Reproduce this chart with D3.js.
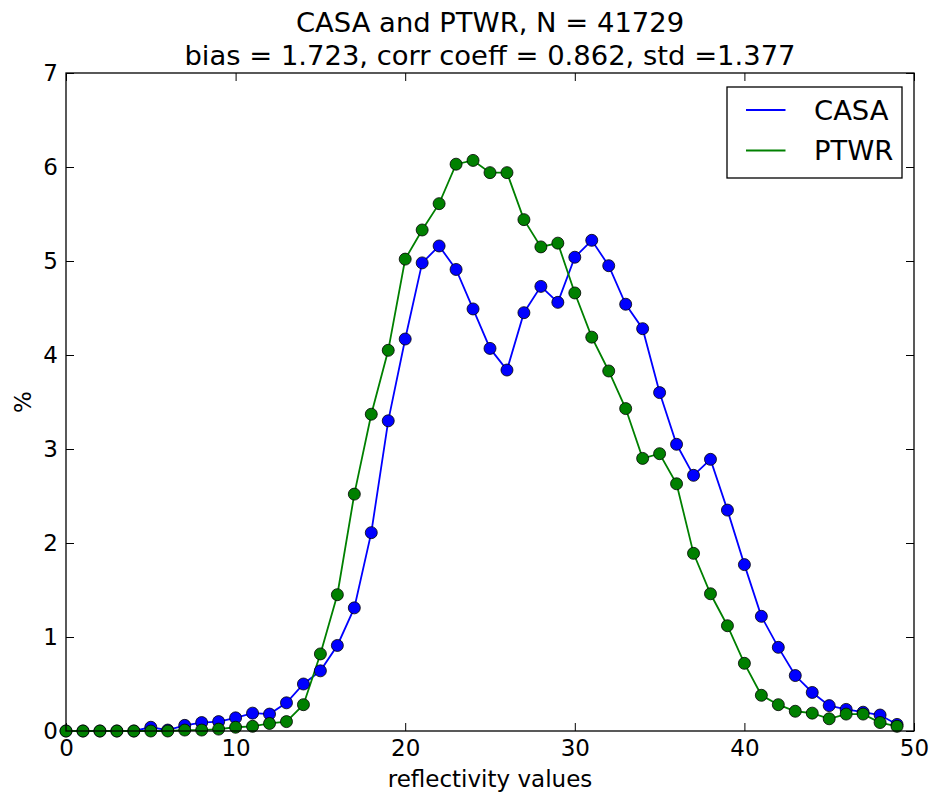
<!DOCTYPE html>
<html>
<head>
<meta charset="utf-8">
<script src="https://cdn.jsdelivr.net/npm/d3@7"></script>
<style>
  html, body { margin: 0; padding: 0; background: #fff; }
  svg { display: block; font-family: "DejaVu Sans", sans-serif; }
</style>
</head>
<body>
<svg id="chart" width="932" height="796"></svg>
<script>
// Reflectivity bins 0..49
const bins = d3.range(0, 50);

// Percentage of samples in each bin
const casa = [0.00, 0.00, 0.00, 0.00, 0.00, 0.04, 0.01, 0.06, 0.09, 0.10,
              0.14, 0.19, 0.18, 0.30, 0.50, 0.64, 0.91, 1.31, 2.11, 3.30,
              4.17, 4.98, 5.16, 4.91, 4.49, 4.07, 3.84, 4.45, 4.73, 4.56,
              5.04, 5.22, 4.95, 4.54, 4.28, 3.60, 3.05, 2.72, 2.89, 2.35,
              1.77, 1.22, 0.89, 0.59, 0.41, 0.27, 0.23, 0.20, 0.17, 0.07];
const ptwr = [0.00, 0.00, 0.00, 0.00, 0.00, 0.00, 0.00, 0.01, 0.01, 0.02,
              0.04, 0.05, 0.08, 0.10, 0.28, 0.82, 1.45, 2.52, 3.37, 4.05,
              5.02, 5.33, 5.61, 6.03, 6.07, 5.94, 5.94, 5.44, 5.15, 5.19,
              4.66, 4.19, 3.83, 3.43, 2.90, 2.95, 2.63, 1.89, 1.46, 1.12,
              0.72, 0.38, 0.28, 0.21, 0.19, 0.13, 0.18, 0.18, 0.09, 0.05];

const seriesNames = ["CASA", "PTWR"];
const seriesColors = ["#0000ff", "#008000"];
const xTicks = [0, 10, 20, 30, 40, 50];
const yTicks = [0, 1, 2, 3, 4, 5, 6, 7];
const titleLines = ["CASA and PTWR, N = 41729",
                    "bias = 1.723, corr coeff = 0.862, std =1.377"];

const svg = d3.select("#chart");
const m = { left: 66, right: 914, top: 73, bottom: 731 };

const x = d3.scaleLinear().domain([0, 50]).range([m.left, m.right]);
const y = d3.scaleLinear().domain([0, 7]).range([m.bottom, m.top]);

const tickLen = 8;
const tickFont = "23px";
const bigFont = "27.4px";

// Axes with inward ticks on all four sides
svg.append("g")
  .attr("transform", `translate(0,${m.bottom})`)
  .call(d3.axisBottom(x).tickValues(xTicks).tickSize(-tickLen).tickPadding(9).tickFormat(d3.format("d")))
  .call(g => g.select(".domain").remove());
svg.append("g")
  .attr("transform", `translate(0,${m.top})`)
  .call(d3.axisTop(x).tickValues(xTicks).tickSize(-tickLen).tickFormat(""))
  .call(g => g.select(".domain").remove());
svg.append("g")
  .attr("transform", `translate(${m.left},0)`)
  .call(d3.axisLeft(y).tickValues(yTicks).tickSize(-tickLen).tickPadding(8).tickFormat(d3.format("d")))
  .call(g => g.select(".domain").remove());
svg.append("g")
  .attr("transform", `translate(${m.right},0)`)
  .call(d3.axisRight(y).tickValues(yTicks).tickSize(-tickLen).tickFormat(""))
  .call(g => g.select(".domain").remove());

svg.selectAll(".tick line").attr("stroke", "#000").attr("stroke-width", 1);
svg.selectAll(".tick text")
  .attr("fill", "#000")
  .style("font-size", tickFont)
  .style("font-family", "'DejaVu Sans', sans-serif");

// Series lines and markers
const line = d3.line().x((d, i) => x(bins[i])).y(d => y(d));
[casa, ptwr].forEach((vals, k) => {
  svg.append("path")
    .datum(vals)
    .attr("fill", "none")
    .attr("stroke", seriesColors[k])
    .attr("stroke-width", 1.8)
    .attr("d", line);
});
[casa, ptwr].forEach((vals, k) => {
  svg.append("g")
    .selectAll("circle")
    .data(vals)
    .join("circle")
    .attr("cx", (d, i) => x(bins[i]))
    .attr("cy", d => y(d))
    .attr("r", 6)
    .attr("fill", seriesColors[k])
    .attr("stroke", "#000")
    .attr("stroke-width", 0.8);
});

// Plot frame
svg.append("rect")
  .attr("x", m.left).attr("y", m.top)
  .attr("width", m.right - m.left).attr("height", m.bottom - m.top)
  .attr("fill", "none").attr("stroke", "#000").attr("stroke-width", 1.3);

// Title
svg.append("text")
  .attr("x", (m.left + m.right) / 2).attr("y", 32)
  .attr("text-anchor", "middle").style("font-size", bigFont)
  .text(titleLines[0]);
svg.append("text")
  .attr("x", (m.left + m.right) / 2).attr("y", 65)
  .attr("text-anchor", "middle").style("font-size", bigFont)
  .text(titleLines[1]);

// Axis labels
svg.append("text")
  .attr("x", (m.left + m.right) / 2).attr("y", 787)
  .attr("text-anchor", "middle").style("font-size", tickFont)
  .text("reflectivity values");
svg.append("text")
  .attr("transform", `translate(31,${(m.top + m.bottom) / 2}) rotate(-90)`)
  .attr("text-anchor", "middle").style("font-size", tickFont)
  .text("%");

// Legend
const lg = svg.append("g").attr("transform", "translate(727,87)");
lg.append("rect").attr("width", 175).attr("height", 91)
  .attr("fill", "#fff").attr("stroke", "#000").attr("stroke-width", 1.3);
seriesNames.forEach((name, k) => {
  const yy = 23 + k * 40.5;
  lg.append("line").attr("x1", 19).attr("x2", 58.5).attr("y1", yy).attr("y2", yy)
    .attr("stroke", seriesColors[k]).attr("stroke-width", 1.8);
  lg.append("text").attr("x", 87).attr("y", yy + 9.5)
    .style("font-size", bigFont).text(name);
});
</script>
</body>
</html>
